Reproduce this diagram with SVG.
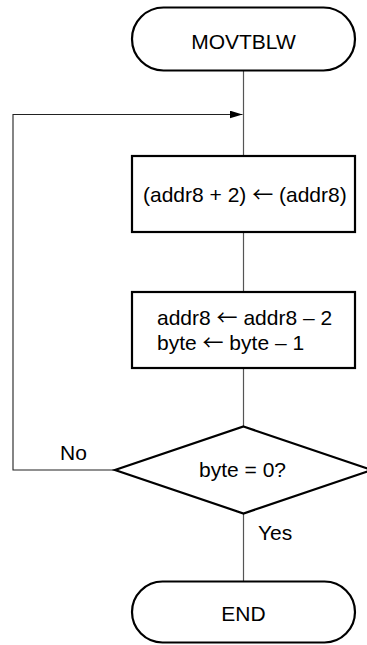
<svg xmlns="http://www.w3.org/2000/svg" width="367" height="645" viewBox="0 0 367 645">
<style>
.node{fill:#fff;stroke:#000;stroke-width:2.2}
.conn{fill:none;stroke:#555;stroke-width:1.2}
.loop{fill:none;stroke:#222;stroke-width:1.1}
text{font-family:"Liberation Sans",Arial,sans-serif;font-size:21px;fill:#000}
.c{text-anchor:middle}
.ar{font-family:"Noto Sans CJK JP","DejaVu Sans",sans-serif}
</style>
<defs>
<marker id="ah" viewBox="0 0 13 8" refX="13" refY="4" markerWidth="13" markerHeight="8" markerUnits="userSpaceOnUse" orient="auto">
<path d="M0,0 L13,4 L0,8 Z" fill="#000"/>
</marker>
</defs>
<g id="connectors">
<line class="conn" x1="243.5" y1="71" x2="243.5" y2="156"/>
<line class="conn" x1="243.5" y1="232" x2="243.5" y2="292"/>
<line class="conn" x1="243.5" y1="368" x2="243.5" y2="426"/>
<line class="conn" x1="243.5" y1="514" x2="243.5" y2="582"/>
<polyline class="loop" points="115,470 13,470 13,114.5 242.5,114.5" marker-end="url(#ah)"/>
</g>
<g id="start">
<rect class="node" x="132" y="7.5" width="223" height="63" rx="31.5" ry="31.5"/>
<text class="c" x="243.5" y="48.5">MOVTBLW</text>
</g>
<g id="box1">
<rect class="node" x="132" y="156" width="223" height="76"/>
<text x="143" y="202">(addr8 + 2) <tspan class="ar">←</tspan> (addr8)</text>
</g>
<g id="box2">
<rect class="node" x="132" y="292" width="223" height="76"/>
<text x="157" y="325">addr8 <tspan class="ar">←</tspan> addr8 – 2</text>
<text x="157" y="349.5">byte <tspan class="ar">←</tspan> byte – 1</text>
</g>
<g id="decision">
<polygon class="node" points="243.5,426.5 372,470 243.5,513.5 115,470"/>
<text class="c" x="242.5" y="476.5">byte = 0?</text>
</g>
<g id="labels">
<text x="60" y="459.5">No</text>
<text x="258" y="540">Yes</text>
</g>
<g id="end">
<rect class="node" x="132" y="581.5" width="223" height="61" rx="30.5" ry="30.5"/>
<text class="c" x="243.5" y="621">END</text>
</g>
</svg>
